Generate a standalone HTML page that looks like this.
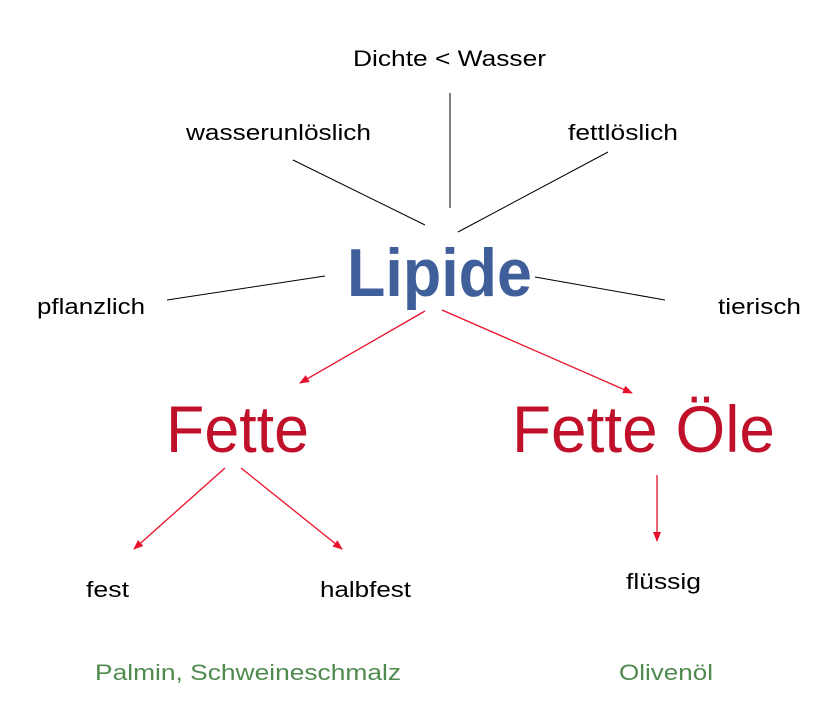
<!DOCTYPE html>
<html><head><meta charset="utf-8"><style>
html,body{margin:0;padding:0;background:#fff;width:839px;height:707px;overflow:hidden}
text{font-family:"Liberation Sans",Arial,sans-serif}
</style></head><body>
<svg width="839" height="707" viewBox="0 0 839 707" xmlns="http://www.w3.org/2000/svg">
<defs>
<marker id="a" markerWidth="10" markerHeight="8" refX="9" refY="4" orient="auto" markerUnits="userSpaceOnUse">
<path d="M0,0 L10,4 L0,8 Z" fill="#e8102a"/></marker>
</defs>
<g stroke="#000" stroke-width="1">
<line x1="450" y1="93" x2="450" y2="208"/>
<line x1="293" y1="160" x2="425" y2="225"/>
<line x1="608" y1="152" x2="458" y2="232"/>
<line x1="167" y1="300" x2="325" y2="276"/>
<line x1="535" y1="277" x2="665" y2="300"/>
</g>
<g stroke="#e8102a" stroke-width="1.3" marker-end="url(#a)">
<line x1="425" y1="311" x2="300" y2="383"/>
<line x1="442" y1="310" x2="632" y2="393"/>
<line x1="225" y1="468" x2="134" y2="549"/>
<line x1="241" y1="468" x2="342" y2="549"/>
<line x1="657" y1="475" x2="657" y2="541"/>
</g>
<g font-size="22" fill="#000">
<text x="353" y="66" textLength="193" lengthAdjust="spacingAndGlyphs">Dichte &lt; Wasser</text>
<text x="186" y="140" textLength="185" lengthAdjust="spacingAndGlyphs">wasserunlöslich</text>
<text x="568" y="140" textLength="110" lengthAdjust="spacingAndGlyphs">fettlöslich</text>
<text x="37" y="314" textLength="108" lengthAdjust="spacingAndGlyphs">pflanzlich</text>
<text x="718" y="314" textLength="83" lengthAdjust="spacingAndGlyphs">tierisch</text>
<text x="86" y="597" textLength="43" lengthAdjust="spacingAndGlyphs">fest</text>
<text x="320" y="597" textLength="91" lengthAdjust="spacingAndGlyphs">halbfest</text>
<text x="626" y="589" textLength="75" lengthAdjust="spacingAndGlyphs">flüssig</text>
</g>
<g font-size="22" fill="#4f8a4f">
<text x="95" y="680" textLength="306" lengthAdjust="spacingAndGlyphs">Palmin, Schweineschmalz</text>
<text x="619" y="680" textLength="94" lengthAdjust="spacingAndGlyphs">Olivenöl</text>
</g>
<text x="347" y="296" font-size="68" font-weight="bold" fill="#3f5f9a" textLength="185" lengthAdjust="spacingAndGlyphs">Lipide</text>
<text x="166" y="452" font-size="66" fill="#c0102a" textLength="143" lengthAdjust="spacingAndGlyphs">Fette</text>
<text x="512" y="452" font-size="66" fill="#c0102a" textLength="263" lengthAdjust="spacingAndGlyphs">Fette Öle</text>
</svg>
</body></html>
